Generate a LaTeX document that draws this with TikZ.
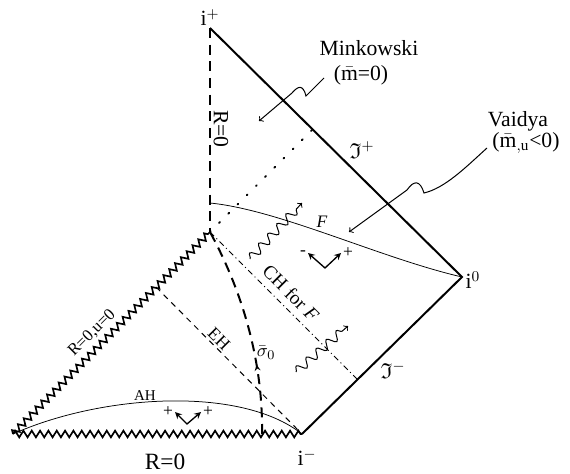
\documentclass[tikz,border=0pt]{standalone}
\usepackage{amsmath,amssymb}
\usepackage{fontspec}
\setmainfont{Liberation Serif}
\usetikzlibrary{arrows,positioning,calc,decorations.pathmorphing,decorations.markings}

\begin{document}
\begin{tikzpicture}[
    x=0.6pt, y=-0.6pt,
    scri/.style={line width=1.2pt},
    wall/.style={line width=1pt, decorate, decoration={zigzag, segment length=5pt, amplitude=2pt}},
    origin/.style={line width=1.2pt, dash pattern=on 6pt off 4pt},
    horizon/.style={line width=0.6pt, dash pattern=on 3.5pt off 3pt},
    cauchy/.style={line width=0.6pt, dash pattern=on 3.5pt off 2pt on 0.6pt off 2pt},
    surface/.style={line width=0.45pt},
    wave/.style={->, >=to, line width=0.6pt, decorate, decoration={snake, segment length=8pt, amplitude=2.6pt, post length=3pt}},
    leader/.style={->, >=to, line width=0.6pt},
    axes/.style={<->, >=stealth, line width=0.8pt},
    big/.style={font=\fontsize{13}{15}\selectfont, inner sep=1pt},
    small/.style={font=\fontsize{10.5}{12}\selectfont, inner sep=1pt}
]
    \useasboundingbox (0,0) rectangle (570,474);

    % corners of the diagram
    \coordinate (iplus) at (210,28);
    \coordinate (izero) at (462,277);
    \coordinate (iminus) at (302,434);
    \coordinate (corner) at (13,434);
    \coordinate (sing) at (210,232);
    \coordinate (dot_end) at (312,130);
    \coordinate (ch_end) at (357,379);
    \coordinate (eh_start) at (156,287);
    \coordinate (f_start) at (210,203);
    \coordinate (sigma_end) at (262,434);

    % boundaries
    \draw[scri] (iplus) -- (izero) -- (iminus);
    \draw[origin] (iplus) -- (sing);
    \draw[wall] (corner) -- (sing);
    \draw[wall] (corner) -- (iminus);

    % horizons and surfaces
    \draw[line width=1.2pt, dash pattern=on 0.6pt off 7.2pt, line cap=round] (sing) -- (dot_end);
    \draw[cauchy] (sing) -- (ch_end);
    \draw[horizon] (eh_start) -- (iminus);
    \draw[surface] (f_start) .. controls (280,210) and (380,258) .. (izero);
    \draw[surface] (corner) .. controls (100,395) and (240,385) .. (iminus);
    \draw[origin, postaction={decorate}, decoration={markings, mark=at position 0.33 with {\arrow[line width=0.6pt]{stealth}}}]
        (sigma_end) .. controls (263,370) and (247,300) .. (sing);

    % radiation
    \coordinate (w1_start) at (250,259);
    \coordinate (w1_end) at (302,203);
    \coordinate (w2_start) at (296,372);
    \coordinate (w2_end) at (348,326);
    \draw[wave] (w1_start) -- (w1_end);
    \draw[wave] (w2_start) -- (w2_end);

    % null directions
    \coordinate (ax1_o) at (325,268);
    \coordinate (ax1_l) at (308,253);
    \coordinate (ax1_r) at (341,253);
    \draw[axes] (ax1_l) -- (ax1_o) -- (ax1_r);
    \node[small, left=0pt of ax1_l] (ax1_minus) {-};
    \node[small, right=0pt of ax1_r] (ax1_plus) {+};
    \coordinate (ax2_o) at (187,424);
    \coordinate (ax2_l) at (175,412);
    \coordinate (ax2_r) at (201,412);
    \draw[axes] (ax2_l) -- (ax2_o) -- (ax2_r);
    \node[small, left=0pt of ax2_l] (ax2_plus_l) {+};
    \node[small, right=0pt of ax2_r] (ax2_plus_r) {+};

    % callouts
    \node[big] (mink_label) at (369,48) {Minkowski};
    \node[big] (mink_mass) at (361,75) {($\bar{\text{m}}$=0)};
    \coordinate (mink_start) at (324,78);
    \coordinate (mink_tip) at (259,121);
    \draw[leader] (mink_start) -- (306,96) .. controls (303,84) and (298,86) .. (292,93) -- (mink_tip);
    \node[big] (vaid_label) at (518,121) {Vaidya};
    \node[big] (vaid_mass) at (526,143) {($\bar{\text{m}}_{,\mathrm{u}}$<0)};
    \coordinate (vaid_start) at (487,148);
    \coordinate (vaid_tip) at (349,232);
    \draw[leader] (vaid_start) .. controls (465,168) and (445,188) .. (424,193) .. controls (420,180) and (414,180) .. (407,190) -- (vaid_tip);

    % labels
    \node[big, above=0pt of iplus] (iplus_label) {i$^+$};
    \node[big, right=1pt of izero, yshift=-2pt] (izero_label) {i$^0$};
    \node[big, below=8pt of iminus, xshift=3pt] (iminus_label) {i$^-$};
    \node[big] (scri_plus) at (362,150) {$\mathfrak{I}^+$};
    \node[big] (scri_minus) at (393,370) {$\mathfrak{I}^-$};
    \node[big, rotate=-90] (r_axis) at (221,129) {R=0};
    \node[big, font=\fontsize{14}{16}\selectfont] (r_bottom) at (165,462) {R=0};
    \node[small, font=\fontsize{10}{11}\selectfont, rotate=45] (r_wall) at (92,333) {R=0,u=0};
    \node[small, font=\fontsize{9}{10}\selectfont] (ah_label) at (145,396) {AH};
    \node[small, rotate=-45] (eh_label) at (219,339) {EH};
    \node[small, font=\fontsize{11.5}{13}\selectfont, rotate=-45] (ch_label) at (291,293) {CH for \textit{F}};
    \node[small] (f_label) at (322,222) {\textit{F}};
    \node[small, font=\fontsize{11}{12}\selectfont] (sigma_label) at (266,353) {$\bar{\sigma}_0$};
\end{tikzpicture}
\end{document}
